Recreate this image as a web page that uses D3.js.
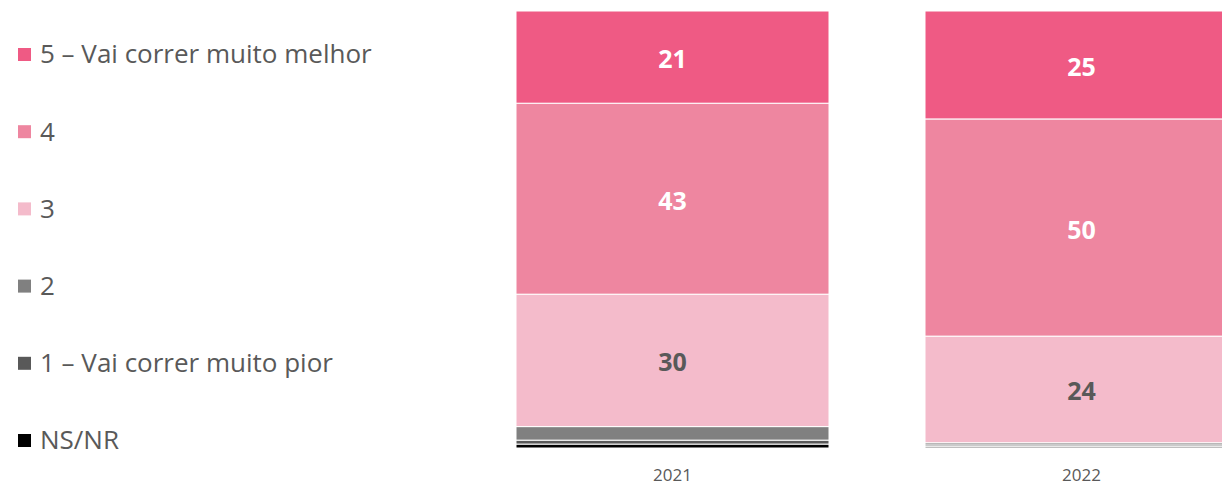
<!DOCTYPE html>
<html>
<head>
<meta charset="utf-8">
<script src="https://cdn.jsdelivr.net/npm/d3@7"></script>
<style>
  body { margin: 0; background: #fff; }
  svg { display: block; font-family: "Open Sans", "Liberation Sans", sans-serif; }
</style>
</head>
<body>
<div id="chart"></div>
<script>
var years = ['2021', '2022'];
var categories = ['NS/NR', '1 – Vai correr muito pior', '2', '3', '4', '5 – Vai correr muito melhor'];
var colors = ['#000000', '#595959', '#808080', '#F4BBCB', '#EE86A0', '#EF5A84'];
var labelColors = [null, null, null, '#595959', '#ffffff', '#ffffff'];
// values bottom to top, per year
var values2021 = [0.9, 0.9, 3.1, 30.3, 43.7, 21.1];
var values2022 = [0.3, 0.4, 0.5, 24.4, 49.7, 24.7];
var shownLabels2021 = [null, null, null, '30', '43', '21'];
var shownLabels2022 = [null, null, null, '24', '50', '25'];

var width = 1222;
var height = 485;

var svg = d3.select('#chart').append('svg')
  .attr('width', width)
  .attr('height', height);

// bars 313px wide, 409px apart; the second one runs past the right edge
var x = d3.scaleBand()
  .domain(years)
  .range([516, 1238])
  .paddingInner(96 / 409)
  .paddingOuter(0);

var y = d3.scaleLinear()
  .domain([0, 100])
  .range([448, 11]);

var data = [
  { year: '2021', values: values2021, labels: shownLabels2021 },
  { year: '2022', values: values2022, labels: shownLabels2022 }
];

var segments = [];
data.forEach(function(d) {
  var acc = 0;
  d.values.forEach(function(v, i) {
    segments.push({ year: d.year, i: i, y0: acc, y1: acc + v, label: d.labels[i] });
    acc += v;
  });
});

var bars = svg.append('g').classed('bars', true);

bars.selectAll('rect')
  .data(segments.filter(function(s) { return s.y1 > s.y0; }))
  .enter().append('rect')
  .attr('x', function(d) { return x(d.year); })
  .attr('width', x.bandwidth())
  .attr('y', function(d) { return y(d.y1); })
  .attr('height', function(d) { return y(d.y0) - y(d.y1); })
  .attr('fill', function(d) { return colors[d.i]; })
  .attr('stroke', '#ffffff')
  .attr('stroke-width', 1);

bars.selectAll('text')
  .data(segments.filter(function(s) { return s.label; }))
  .enter().append('text')
  .attr('x', function(d) { return x(d.year) + x.bandwidth() / 2; })
  .attr('y', function(d) { return (y(d.y0) + y(d.y1)) / 2 + 2; })
  .attr('dy', '0.36em')
  .attr('text-anchor', 'middle')
  .attr('font-size', 25)
  .attr('font-weight', 'bold')
  .attr('fill', function(d) { return labelColors[d.i]; })
  .text(function(d) { return d.label; });

var xAxis = d3.axisBottom(x).tickSize(0).tickPadding(0);
var xg = svg.append('g')
  .attr('transform', 'translate(0,481)')
  .call(xAxis);
xg.select('.domain').remove();
xg.selectAll('text')
  .attr('dy', 0)
  .attr('font-size', 17)
  .attr('font-family', '"Open Sans", "Liberation Sans", sans-serif')
  .attr('fill', '#595959');

// legend, top to bottom
var legendItems = categories.slice().reverse();
var legendColors = colors.slice().reverse();
var ly = d3.scalePoint()
  .domain(legendItems)
  .range([54, 440]);

var legend = svg.append('g').classed('legend', true);
var item = legend.selectAll('g')
  .data(legendItems)
  .enter().append('g')
  .attr('transform', function(d) { return 'translate(0,' + ly(d) + ')'; });

item.append('rect')
  .attr('x', 18)
  .attr('y', -6)
  .attr('width', 13)
  .attr('height', 13)
  .attr('fill', function(d, i) { return legendColors[i]; });

item.append('text')
  .attr('x', 40)
  .attr('dy', '0.36em')
  .attr('font-size', 26)
  .attr('fill', '#595959')
  .text(function(d) { return d; });
</script>
</body>
</html>
